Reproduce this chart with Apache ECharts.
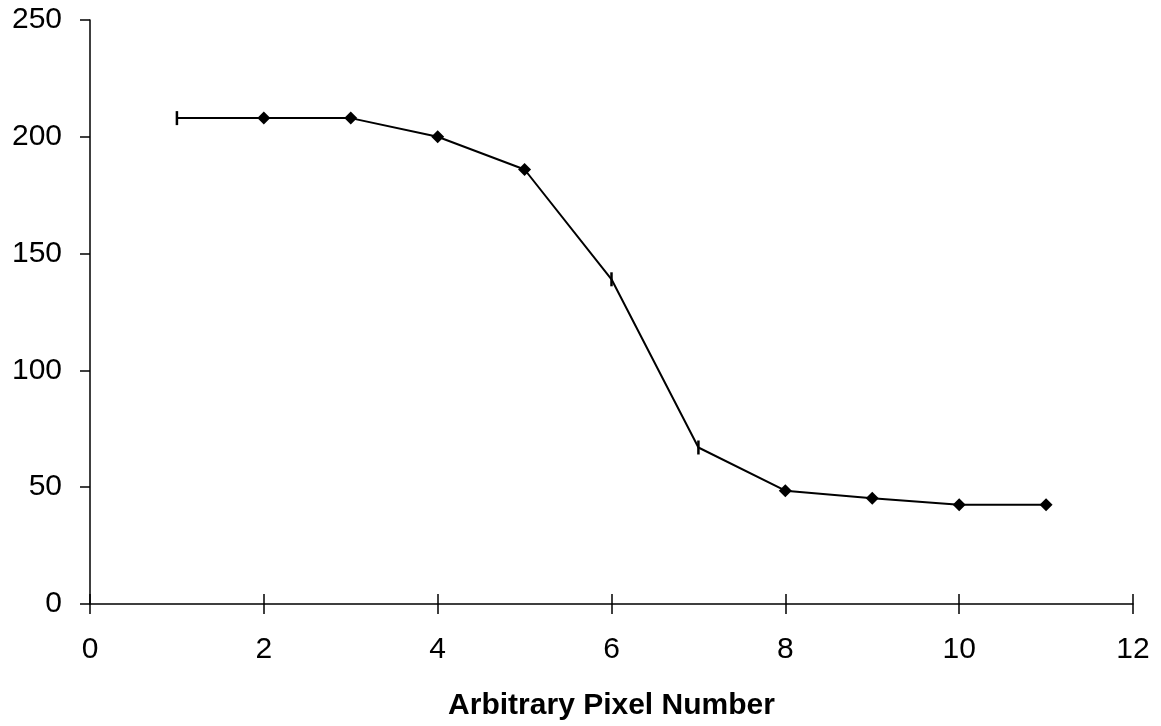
<!DOCTYPE html>
<html>
<head>
<meta charset="utf-8">
<script src="https://cdn.jsdelivr.net/npm/echarts@6/dist/echarts.min.js"></script>
<style>
  html, body { margin: 0; padding: 0; background: #fff; }
  #chart { width: 1161px; height: 726px; }
</style>
</head>
<body>
<div id="chart"></div>
<script>
// pixel number vs. value
const pixelNumbers = [1, 2, 3, 4, 5, 6, 7, 8, 9, 10, 11];
const pixelValues = [208, 208, 208, 200, 186, 139, 67, 48.5, 45.3, 42.5, 42.5];
// points drawn as a short vertical bar instead of a diamond
const dashPoints = [1, 6, 7];

const xTicks = [0, 2, 4, 6, 8, 10, 12];
const yTicks = [0, 50, 100, 150, 200, 250];

const chart = echarts.init(document.getElementById('chart'));

const seriesData = pixelNumbers.map((x, i) => {
    const item = { value: [x, pixelValues[i]] };
    if (dashPoints.includes(x)) {
        item.symbol = 'rect';
        item.symbolSize = [2.5, 14];
    }
    return item;
});

const labelFont = { fontFamily: 'Liberation Sans, Arial, sans-serif', fontSize: 30, color: '#000' };

chart.setOption({
    animation: false,
    grid: { left: 90, right: 28, top: 20, bottom: 121 },
    xAxis: [
        {
            type: 'value',
            min: xTicks[0],
            max: xTicks[xTicks.length - 1],
            interval: 2,
            name: 'Arbitrary Pixel Number',
            nameLocation: 'middle',
            nameGap: 87,
            nameTextStyle: Object.assign({}, labelFont, { fontWeight: 'bold' }),
            axisLine: { show: true, lineStyle: { color: '#000', width: 1.5 } },
            axisTick: { show: true, length: 10, lineStyle: { color: '#000', width: 1.5 } },
            axisLabel: Object.assign({ margin: 31 }, labelFont),
            splitLine: { show: false }
        },
        {
            // inner half of the crossing ticks
            type: 'value',
            position: 'bottom',
            min: xTicks[0],
            max: xTicks[xTicks.length - 1],
            interval: 2,
            axisLine: { show: false },
            axisTick: { show: true, inside: true, length: 10, lineStyle: { color: '#000', width: 1.5 } },
            axisLabel: { show: false },
            splitLine: { show: false }
        }
    ],
    yAxis: {
        type: 'value',
        min: yTicks[0],
        max: yTicks[yTicks.length - 1],
        interval: 50,
        axisLine: { show: true, lineStyle: { color: '#000', width: 1.5 } },
        axisTick: { show: true, length: 10, lineStyle: { color: '#000', width: 1.5 } },
        axisLabel: Object.assign({ margin: 28 }, labelFont),
        splitLine: { show: false }
    },
    series: [
        {
            type: 'line',
            data: seriesData,
            symbol: 'diamond',
            symbolSize: 13,
            showAllSymbol: true,
            lineStyle: { color: '#000', width: 2 },
            itemStyle: { color: '#000', borderWidth: 0 }
        }
    ]
});
</script>
</body>
</html>
